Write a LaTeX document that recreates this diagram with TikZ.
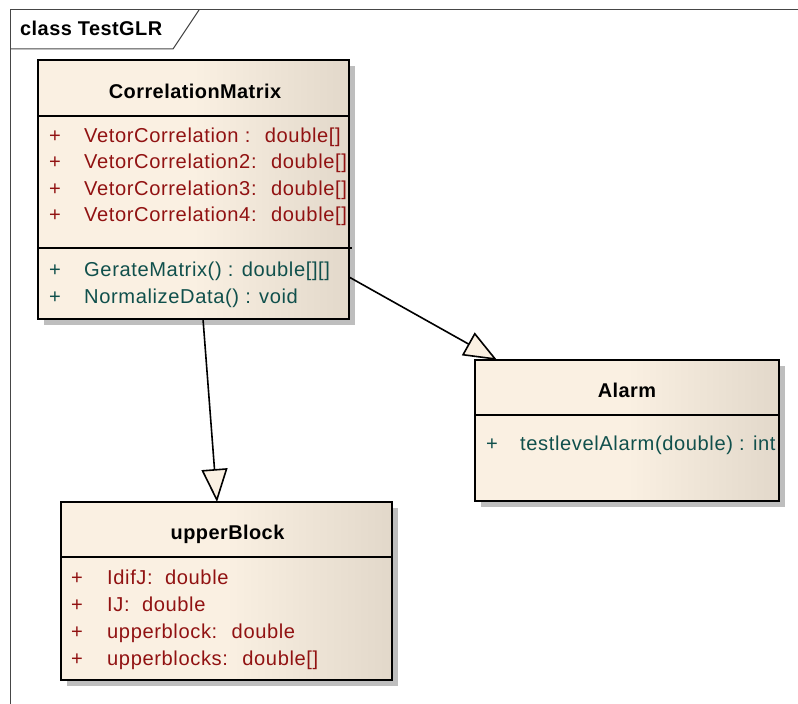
\documentclass[tikz,border=0pt]{standalone}
\usepackage{fontspec}
\usetikzlibrary{arrows.meta,calc,shadows}

\newfontfamily\umlfont{Liberation Sans}[LetterSpace=3]
\newfontfamily\umlbold{Liberation Sans}[LetterSpace=2.3]

\definecolor{boxL}{RGB}{250,240,226}
\definecolor{boxR}{RGB}{226,216,202}
\definecolor{attrc}{RGB}{145,18,18}
\definecolor{operc}{RGB}{16,80,76}
\definecolor{shadowc}{RGB}{190,190,190}
\definecolor{framec}{RGB}{70,70,70}

% class fill: flat cream on the left, darker beige towards the right edge
\pgfdeclarehorizontalshading{classfill}{100bp}{color(0bp)=(boxL); color(25bp)=(boxL); color(50bp)=(boxL); color(75bp)=(boxR); color(100bp)=(boxR)}

\tikzset{
  classbox/.style={rectangle, draw=black, line width=2bp, shading=classfill,
    anchor=north west, inner sep=0pt, outer sep=0pt,
    drop shadow={shadow xshift=6bp, shadow yshift=-6bp, fill=shadowc, opacity=1}},
  sepline/.style={draw=black, line width=1.5bp},
  titletext/.style={anchor=base, inner sep=0pt, font=\umlbold\bfseries\fontsize{20}{24}\selectfont},
  attrtext/.style={anchor=base west, inner sep=0pt, text=attrc, font=\umlfont\fontsize{20.2}{24}\selectfont},
  opertext/.style={anchor=base west, inner sep=0pt, text=operc, font=\umlfont\fontsize{20.2}{24}\selectfont},
  gen/.style={line width=1.6bp, draw=black,
    -{Triangle[length=33bp, width=26bp, fill=boxL, line join=miter]}},
}

% one member row: box, row name, baseline below box top, style, plus offset, text offset, text
\newcommand{\memberrow}[7]{%
  \node[#4] (#1-#2p) at ([xshift=#5bp, yshift=-#3bp]#1.north west) {+};
  \node[#4] (#1-#2) at ([xshift=#6bp, yshift=-#3bp]#1.north west) {#7};}

\begin{document}
\begin{tikzpicture}[x=1bp, y=-1bp]
\useasboundingbox (0,0) rectangle (798,704);

% diagram frame with its name tab
\draw[framec, line width=1bp] (798,10) -- (10,10) -- (10,704);
\draw[framec, line width=1bp] (10,49) -- (173,49) -- (199,10);
\node[anchor=base west, inner sep=0pt, font=\umlbold\bfseries\fontsize{20}{24}\selectfont] (tab) at (20,35.7) {class TestGLR};

% class boxes
\node[classbox, minimum width=311bp, minimum height=259bp] (cm) at (38,60) {};
\node[classbox, minimum width=304bp, minimum height=141bp] (al) at (475,360) {};
\node[classbox, minimum width=331bp, minimum height=178bp] (ub) at (61,502) {};

% compartment separators
\draw[sepline] ([yshift=-56bp]cm.north west) -- ([yshift=-56bp]cm.north east);
\draw[sepline] ([yshift=-188bp]cm.north west) -- ([yshift=-188bp, xshift=3bp]cm.north east);
\draw[sepline] ([yshift=-55bp]al.north west) -- ([yshift=-55bp]al.north east);
\draw[sepline] ([yshift=-55bp]ub.north west) -- ([yshift=-55bp]ub.north east);

% CorrelationMatrix
\node[titletext] (cm-title) at ([xshift=1.5bp, yshift=-38bp]cm.north) {CorrelationMatrix};
\memberrow{cm}{a1}{82}{attrtext}{11}{46}{VetorCorrelation :~ double[]}
\memberrow{cm}{a2}{108.5}{attrtext}{11}{46}{VetorCorrelation2:~ double[]}
\memberrow{cm}{a3}{135}{attrtext}{11}{46}{VetorCorrelation3:~ double[]}
\memberrow{cm}{a4}{161}{attrtext}{11}{46}{VetorCorrelation4:~ double[]}
\memberrow{cm}{o1}{216.7}{opertext}{11}{46}{GerateMatrix() : double[][]}
\memberrow{cm}{o2}{243}{opertext}{11}{46}{NormalizeData() : void}

% Alarm
\node[titletext] (al-title) at ([yshift=-37.7bp]al.north) {Alarm};
\memberrow{al}{o1}{90.7}{opertext}{11}{45}{testlevelAlarm(double) : int}

% upperBlock
\node[titletext] (ub-title) at ([xshift=1bp, yshift=-37bp]ub.north) {upperBlock};
\memberrow{ub}{a1}{82.3}{attrtext}{10}{46}{IdifJ:~ double}
\memberrow{ub}{a2}{109}{attrtext}{10}{46}{IJ:~ double}
\memberrow{ub}{a3}{136.3}{attrtext}{10}{46}{upperblock:~ double}
\memberrow{ub}{a4}{163}{attrtext}{10}{46}{upperblocks:~ double[]}

% generalizations
\draw[gen] ([xshift=165bp]cm.south west) -- ([xshift=156bp]ub.north west);
\draw[gen] ([yshift=-217bp]cm.north east) -- ([xshift=22bp]al.north west);
\end{tikzpicture}
\end{document}
